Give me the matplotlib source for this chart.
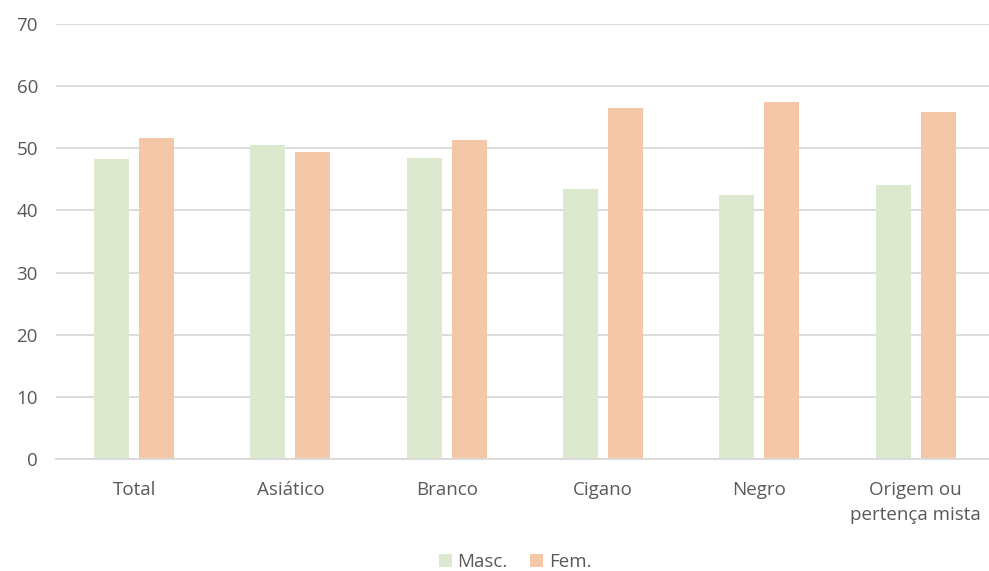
import matplotlib.pyplot as plt
import numpy as np

plt.rcParams['font.family'] = ['Open Sans', 'DejaVu Sans']

categorias = ['Total', 'Asiático', 'Branco', 'Cigano', 'Negro', 'Origem ou\npertença mista']
masc = [48.3, 50.6, 48.5, 43.5, 42.5, 44.1]
fem = [51.7, 49.4, 51.3, 56.5, 57.5, 55.9]
yticks = [0, 10, 20, 30, 40, 50, 60, 70]

cor_masc = '#DCE9CE'
cor_fem = '#F4C7A9'
cinza = '#595959'

fig = plt.figure(figsize=(9.89, 5.71), dpi=100)
ax = fig.add_axes([0.0566, 0.196, 1 - 0.0566, 0.762])

x = np.arange(len(categorias))
w = 0.224
ax.bar(x - 0.144, masc, w, color=cor_masc, label='Masc.', zorder=2)
ax.bar(x + 0.144, fem, w, color=cor_fem, label='Fem.', zorder=2)

ax.set_xlim(-0.5, 5.47)
ax.set_ylim(0, 70)
ax.set_yticks(yticks)
ax.yaxis.grid(True, color='#D9D9D9', linewidth=1.3, zorder=0)
ax.set_axisbelow(True)
for s in ['top', 'right', 'left']:
    ax.spines[s].set_visible(False)
ax.spines['bottom'].set_color('#D9D9D9')
ax.spines['bottom'].set_linewidth(1.3)
ax.tick_params(axis='both', length=0, labelsize=13.5, colors=cinza)
ax.tick_params(axis='y', pad=13)
ax.tick_params(axis='x', pad=16)
ax.set_xticks(x)
ax.set_xticklabels(categorias, linespacing=1.45)

ax.legend(loc='center', bbox_to_anchor=(0.492, -0.237), bbox_transform=ax.transAxes,
          ncol=2, frameon=False, fontsize=13.5, labelcolor=cinza,
          handlelength=0.7, handleheight=0.7, handletextpad=0.3, columnspacing=1.2)

fig.savefig('out.png', dpi=100, facecolor='white')
